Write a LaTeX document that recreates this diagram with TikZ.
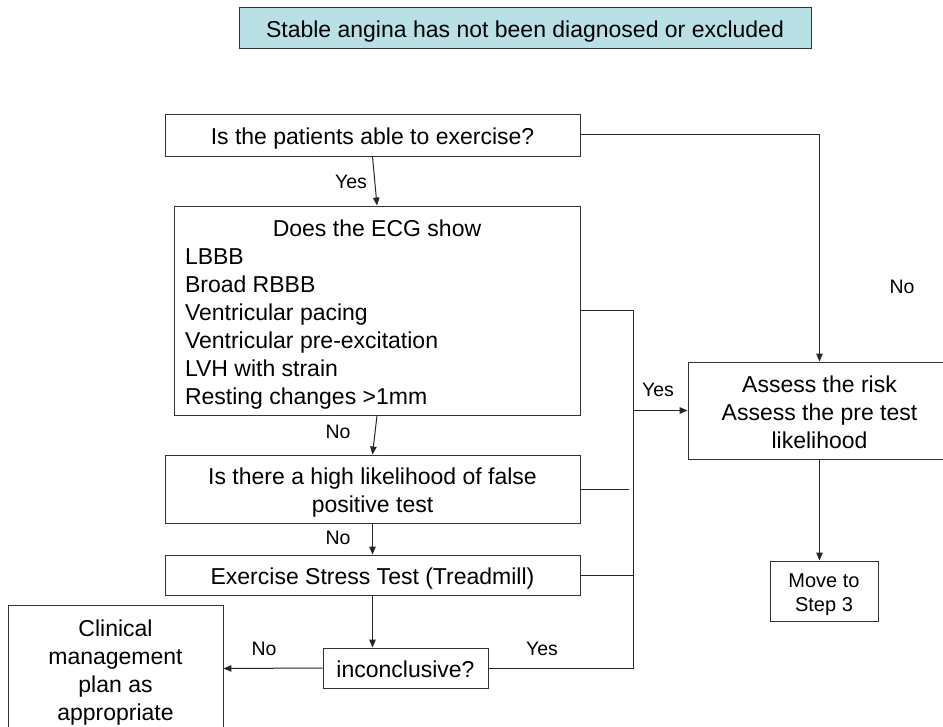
\documentclass[tikz,border=0pt]{standalone}
\usepackage{fontspec}
\setmainfont{Liberation Sans}
\usetikzlibrary{arrows.meta}
\definecolor{topblue}{RGB}{184,224,229}
\newcommand\tbc[1]{\raisebox{-4pt}[\height][\depth]{\begin{tabular}{@{}c@{}}#1\end{tabular}}}
\newcommand\tbl[1]{\raisebox{-4pt}[\height][\depth]{\begin{tabular}{@{}l@{}}#1\end{tabular}}}
\begin{document}
\begin{tikzpicture}[x=1pt,y=-1pt,
  box/.style={draw=black!80, line width=0.9pt, rectangle, inner sep=0pt, text=black,
    font=\fontsize{23}{28}\selectfont},
  lbl/.style={font=\fontsize{19.5}{23}\selectfont, inner sep=0pt, text=black},
  conn/.style={line width=1pt, draw=black!85},
  arr/.style={conn, -{Triangle[length=8pt,width=6.5pt]}}]
\path[use as bounding box, clip] (0,0) rectangle (943,727);

\node[box, fill=topblue, minimum width=572pt, minimum height=41pt] (top) at (525,27.5)
  {\tbc{Stable angina has not been diagnosed or excluded}};
\node[box, minimum width=415pt, minimum height=42pt] (q1) at (372.5,135)
  {\tbc{Is the patients able to exercise?}};
\node[box, minimum width=406pt, minimum height=209pt] (ecg) at (377,310.5)
  {\tbl{\makebox[384pt][c]{Does the ECG show}\\LBBB\\Broad RBBB\\Ventricular pacing\\Ventricular pre-excitation\\LVH with strain\\Resting changes >1mm}};
\node[box, minimum width=415pt, minimum height=68pt] (q2) at (372.5,489)
  {\tbc{Is there a high likelihood of false\\positive test}};
\node[box, minimum width=415pt, minimum height=40pt] (q3) at (372.5,575)
  {\tbc{Exercise Stress Test (Treadmill)}};
\node[box, minimum width=165pt, minimum height=40pt] (q4) at (405.5,668)
  {\tbc{inconclusive?}};
\node[box, minimum width=215pt, minimum height=127pt] (clin) at (115.5,668.5)
  {\tbc{Clinical\\management\\plan as\\appropriate}};
\node[box, minimum width=263pt, minimum height=97pt] (assess) at (819.5,410.5)
  {\tbc{Assess the risk\\Assess the pre test\\likelihood}};
\node[box, minimum width=108pt, minimum height=60pt, font=\fontsize{20}{24}\selectfont] (move) at (824,591)
  {\tbc{Move to\\Step 3}};

\coordinate (bt) at (633,310.5);
\coordinate (bb) at (633,668);
\coordinate (fpend) at (629,489);

\draw[arr] (q1.south) -- (ecg.north);
\draw[arr] (ecg.south) -- (q2.north);
\draw[arr] (q2.south) -- (q3.north);
\draw[arr] (q3.south) -- (q3.south |- q4.north);
\draw[arr] (q4.west) -- (clin.east);
\draw[conn] (ecg.east) -- (bt) -- (bb) -- (q4.east);
\draw[conn] (q2.east) -- (fpend);
\draw[conn] (q3.east) -- (q3.east -| bt);
\draw[arr, line width=1.5pt] (bt |- assess.west) -- (assess.west);
\draw[arr] (q1.east) -- (q1.east -| assess.north) -- (assess.north);
\draw[arr] (assess.south) -- (assess.south |- move.north);

\node[lbl] (l1) at (351,182) {Yes};
\node[lbl] (l2) at (338,432) {No};
\node[lbl] (l3) at (338,538) {No};
\node[lbl] (l4) at (264,649) {No};
\node[lbl] (l5) at (542,649) {Yes};
\node[lbl] (l6) at (658,390) {Yes};
\node[lbl] (l7) at (902,287) {No};
\end{tikzpicture}
\end{document}
